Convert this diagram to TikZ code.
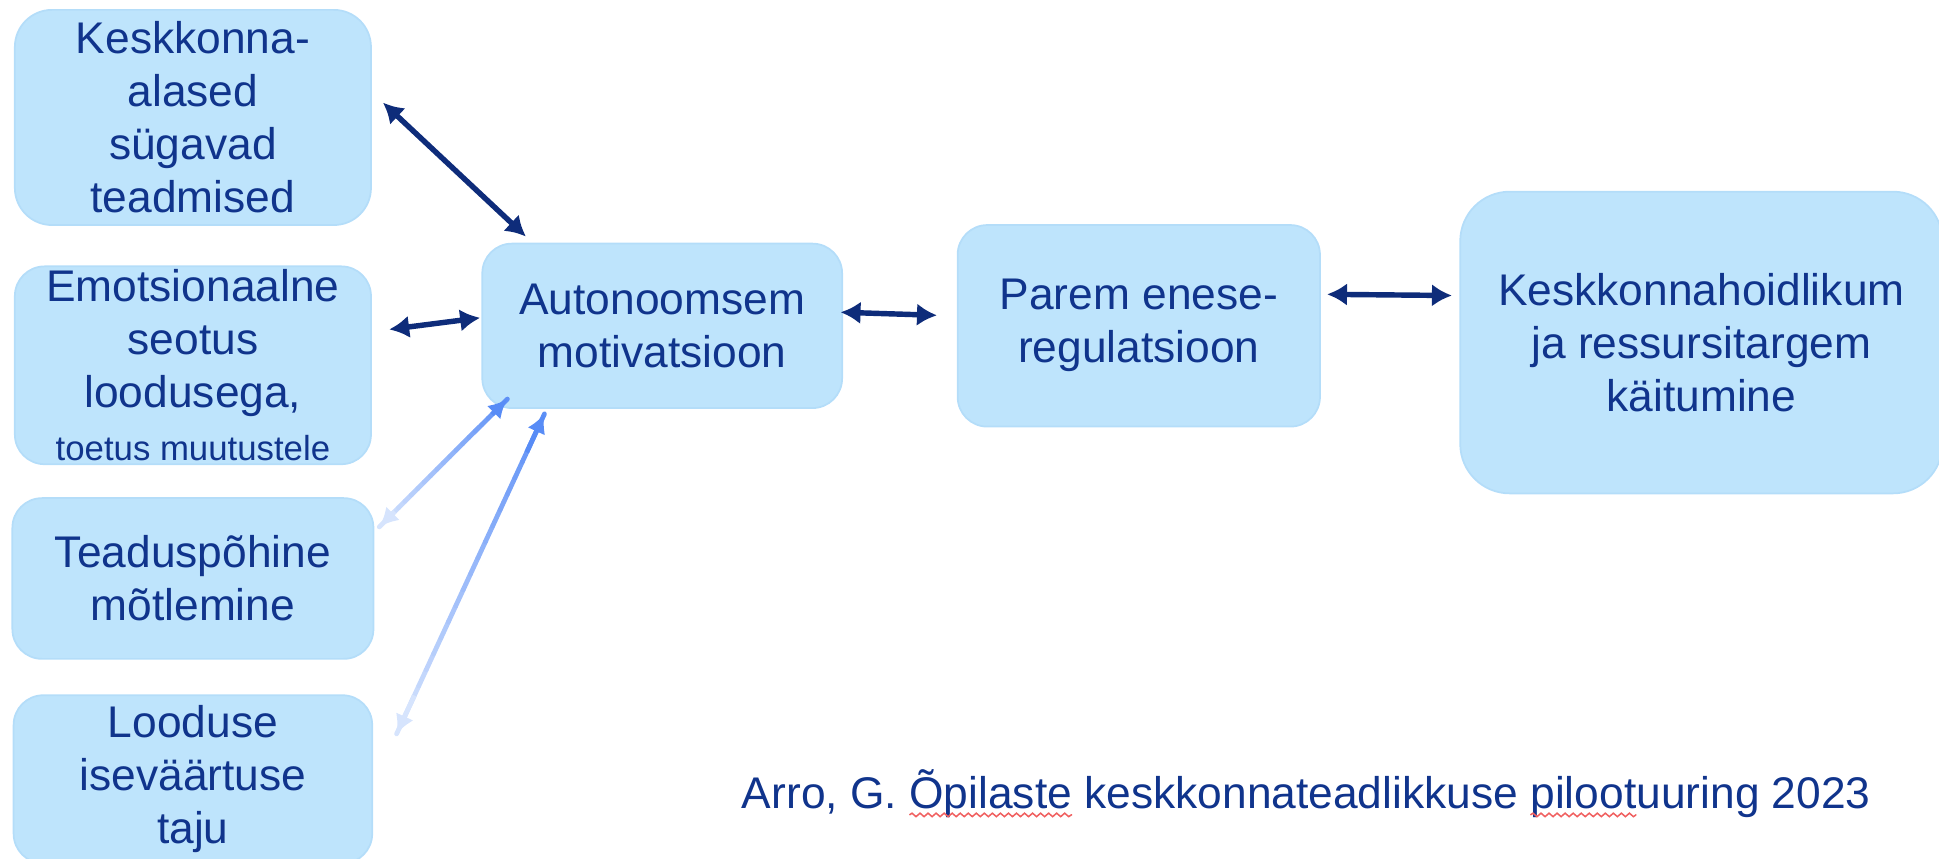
\documentclass[tikz,border=0pt]{standalone}
\usepackage{fontspec}
\setmainfont{Liberation Sans}
\usetikzlibrary{positioning,arrows.meta,calc,decorations.pathmorphing}

\definecolor{boxfill}{RGB}{190,228,252}
\definecolor{boxline}{RGB}{180,221,249}
\definecolor{textnavy}{RGB}{16,52,140}
\definecolor{arrownavy}{RGB}{14,44,122}
\definecolor{fademid}{RGB}{88,140,246}
\definecolor{fadepale}{RGB}{214,228,253}
\definecolor{spellred}{RGB}{240,96,96}

\begin{document}
\begin{tikzpicture}[
    node distance=0.3cm,
    box/.style={rectangle, rounded corners=0.24cm, fill=boxfill, draw=boxline, line width=0.4pt, align=center, inner sep=0pt, text=textnavy, font=\fontsize{10.2}{12.2}\selectfont},
    arrow/.style={{Latex[length=4.6pt,width=5.2pt]}-{Latex[length=4.6pt,width=5.2pt]}, line width=1.25pt, arrownavy},
    fade/.style={line width=1.1pt, line cap=round},
    fadetip/.style={-{Latex[length=4.4pt,width=4.4pt]}, line width=1.1pt},
    cite/.style={inner sep=0pt, outer sep=0pt, text=textnavy, font=\fontsize{10.2}{12}\selectfont},
    squiggle/.style={spellred, line width=0.35pt, decorate, decoration={snake, segment length=0.065cm, amplitude=0.014cm}}
]
    \useasboundingbox (0,0) rectangle (15.68,-6.94);

    \node[box, rounded corners=0.3cm, minimum width=2.88cm, minimum height=1.74cm] (know) at (1.56,-0.95) {Keskkonna-\\alased\\sügavad\\teadmised};
    \node[box, minimum width=2.88cm, minimum height=1.6cm, below=0.32cm of know] (emot) {Emotsionaalne\\seotus\\loodusega,\\{\fontsize{8}{9.6}\selectfont toetus muutustele}};
    \node[box, minimum width=2.92cm, minimum height=1.3cm, below=0.26cm of emot] (think) {Teaduspõhine\\mõtlemine};
    \node[box, minimum width=2.9cm, minimum height=1.36cm, below=0.28cm of think] (value) {Looduse\\iseväärtuse\\taju};

    \node[box, minimum width=2.91cm, minimum height=1.33cm] (auto) at (5.355,-2.635) {Autonoomsem\\motivatsioon};
    \node[box, minimum width=2.93cm, minimum height=1.63cm, right=0.92cm of auto] (selfreg) {Parem enese-\\regulatsioon};
    \node[box, rounded corners=0.4cm, minimum width=3.9cm, minimum height=2.44cm, right=1.12cm of selfreg, yshift=-0.135cm] (behave) {Keskkonnahoidlikum\\ja ressursitargem\\käitumine};

    \draw[arrow] ([xshift=0.09cm,yshift=0.12cm]know.east) -- ([xshift=0.36cm,yshift=0.05cm]auto.north west);
    \draw[arrow] ([xshift=0.14cm,yshift=0.29cm]emot.east) -- ([xshift=-0.01cm,yshift=0.065cm]auto.west);
    \draw[arrow] ([xshift=-0.02cm,yshift=0.11cm]auto.east) -- ([xshift=-0.16cm,yshift=0.085cm]selfreg.west);
    \draw[arrow] ([xshift=0.05cm,yshift=0.255cm]selfreg.east) -- ([xshift=-0.06cm,yshift=0.38cm]behave.west);

    \coordinate (t3) at ([xshift=0.04cm,yshift=-0.24cm]think.north east);
    \coordinate (h3) at ([xshift=0.21cm,yshift=0.08cm]auto.south west);
    \coordinate (t4) at ([xshift=0.19cm,yshift=-0.32cm]value.north east);
    \coordinate (h4) at ([xshift=0.51cm,yshift=-0.04cm]auto.south west);
    \foreach \t/\h in {t3/h3, t4/h4} {
        \foreach \k [evaluate=\k as \mix using int(5*\k), evaluate=\k as \knext using (\k+1)/20] in {0,...,19}
            \draw[fade, color=fademid!\mix!fadepale] ($(\t)!\k/20!(\h)$) -- ($(\t)!\knext!(\h)$);
        \draw[fadetip, fadepale] ($(\t)!0.12!(\h)$) -- (\t);
        \draw[fadetip, fademid] ($(\t)!0.88!(\h)$) -- (\h);
    }

    \node[cite, anchor=base west] (cite1) at (6.00,-6.54) {Arro, G.\ \kern0pt};
    \node[cite, anchor=base west] (cite2) at (cite1.base east) {Õpilaste};
    \node[cite, anchor=base west] (cite3) at (cite2.base east) {\ keskkonnateadlikkuse\ \kern0pt};
    \node[cite, anchor=base west] (cite4) at (cite3.base east) {piloot};
    \node[cite, anchor=base west] (cite5) at (cite4.base east) {uuring 2023};
    \draw[squiggle] ([yshift=-0.05cm]cite2.base west) -- ([yshift=-0.05cm]cite2.base east);
    \draw[squiggle] ([yshift=-0.05cm]cite4.base west) -- ([yshift=-0.05cm]cite4.base east);
\end{tikzpicture}
\end{document}
